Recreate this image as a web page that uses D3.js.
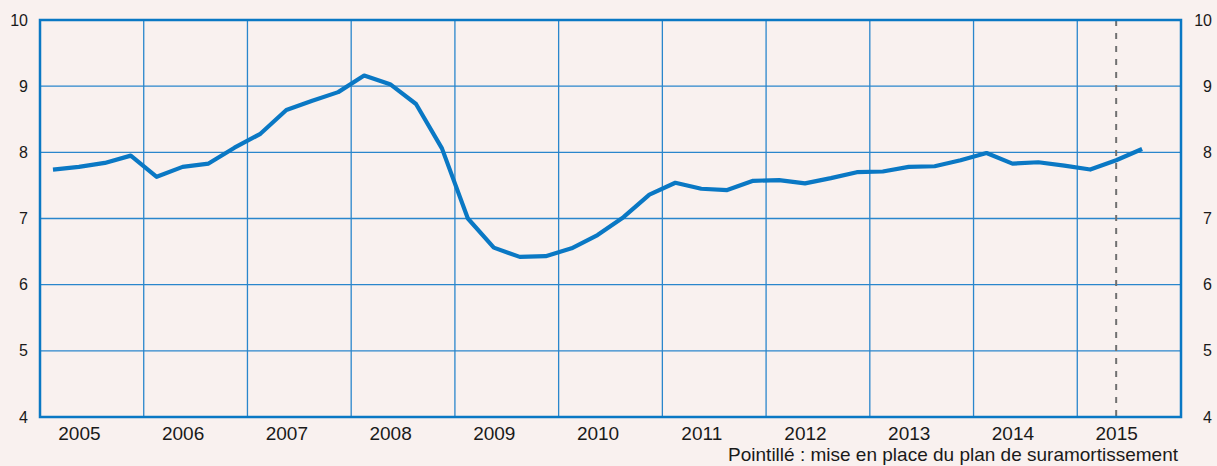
<!DOCTYPE html>
<html>
<head>
<meta charset="utf-8">
<script src="https://cdn.jsdelivr.net/npm/d3@7"></script>
<style>
  html, body { margin: 0; padding: 0; background: #f9f1ef; }
  svg { display: block; font-family: "Liberation Sans", Arial, sans-serif; }
</style>
</head>
<body>
<div id="chart"></div>
<script>
var WIDTH = 1217;
var HEIGHT = 466;
var MARGIN = { top: 20, right: 36, bottom: 49, left: 40 };
var BLUE = "#0a78c4";

// years shown on the x axis
var years = [2005, 2006, 2007, 2008, 2009, 2010, 2011, 2012, 2013, 2014, 2015];
// quarterly observations, 2005T1 .. 2015T3
var quarters = [
  "2005T1", "2005T2", "2005T3", "2005T4",
  "2006T1", "2006T2", "2006T3", "2006T4",
  "2007T1", "2007T2", "2007T3", "2007T4",
  "2008T1", "2008T2", "2008T3", "2008T4",
  "2009T1", "2009T2", "2009T3", "2009T4",
  "2010T1", "2010T2", "2010T3", "2010T4",
  "2011T1", "2011T2", "2011T3", "2011T4",
  "2012T1", "2012T2", "2012T3", "2012T4",
  "2013T1", "2013T2", "2013T3", "2013T4",
  "2014T1", "2014T2", "2014T3", "2014T4",
  "2015T1", "2015T2", "2015T3"
];
var values = [
  7.74, 7.78, 7.84, 7.95,
  7.63, 7.78, 7.83, 8.07,
  8.28, 8.64, 8.78, 8.91,
  9.16, 9.03, 8.73, 8.06,
  7.00, 6.56, 6.42, 6.43,
  6.55, 6.75, 7.02, 7.36,
  7.54, 7.45, 7.43, 7.57,
  7.58, 7.53, 7.61, 7.70,
  7.71, 7.78, 7.79, 7.88,
  7.99, 7.83, 7.85, 7.80,
  7.74, 7.88, 8.05
];
var yTicks = [4, 5, 6, 7, 8, 9, 10];
var markerQuarter = "2015T2";
var footnote = "Pointillé : mise en place du plan de suramortissement";

// turn "2007T3" into a position on a continuous year axis (quarter middle)
function quarterTime(q) {
  var y = +q.slice(0, 4);
  var n = +q.slice(5);
  return y + (n - 0.5) / 4;
}

var data = quarters.map(function(q, i) {
  return { t: quarterTime(q), v: values[i] };
});

var svg = d3.select("#chart").append("svg")
  .attr("width", WIDTH)
  .attr("height", HEIGHT);

svg.append("rect")
  .attr("width", WIDTH)
  .attr("height", HEIGHT)
  .attr("fill", "#f9f1ef");

var x = d3.scaleLinear()
  .domain([years[0], years[years.length - 1] + 1])
  .range([MARGIN.left, WIDTH - MARGIN.right]);
var y = d3.scaleLinear()
  .domain([4, 10])
  .range([HEIGHT - MARGIN.bottom, MARGIN.top]);

var plot = svg.append("g");

// horizontal grid
plot.selectAll(".hgrid")
  .data(yTicks)
  .enter()
  .append("line")
  .attr("class", "hgrid")
  .attr("x1", x.range()[0])
  .attr("x2", x.range()[1])
  .attr("y1", function(d) { return y(d); })
  .attr("y2", function(d) { return y(d); })
  .attr("stroke", "#2a86cc")
  .attr("stroke-width", 1.3);

// vertical year separators
plot.selectAll(".vgrid")
  .data(years.slice(1))
  .enter()
  .append("line")
  .attr("class", "vgrid")
  .attr("x1", function(d) { return x(d); })
  .attr("x2", function(d) { return x(d); })
  .attr("y1", y.range()[1])
  .attr("y2", y.range()[0])
  .attr("stroke", "#2a86cc")
  .attr("stroke-width", 1.3);

// dashed marker
var mx = x(quarterTime(markerQuarter));
plot.append("line")
  .attr("x1", mx)
  .attr("x2", mx)
  .attr("y1", y.range()[1])
  .attr("y2", y.range()[0])
  .attr("stroke", "#707070")
  .attr("stroke-width", 2)
  .attr("stroke-dasharray", "6,7");

// frame
plot.append("rect")
  .attr("x", x.range()[0])
  .attr("y", y.range()[1])
  .attr("width", x.range()[1] - x.range()[0])
  .attr("height", y.range()[0] - y.range()[1])
  .attr("fill", "none")
  .attr("stroke", BLUE)
  .attr("stroke-width", 2.5);

// series
var line = d3.line()
  .x(function(d) { return x(d.t); })
  .y(function(d) { return y(d.v); });

plot.append("path")
  .datum(data)
  .attr("d", line)
  .attr("fill", "none")
  .attr("stroke", BLUE)
  .attr("stroke-width", 4.2)
  .attr("stroke-linejoin", "round");

// y labels on both sides
var leftAxis = d3.axisLeft(y).tickValues(yTicks).tickFormat(d3.format("d"))
  .tickSize(0).tickPadding(12);
var rightAxis = d3.axisRight(y).tickValues(yTicks).tickFormat(d3.format("d"))
  .tickSize(0).tickPadding(0);

var gl = svg.append("g")
  .attr("transform", "translate(" + x.range()[0] + ",0)")
  .call(leftAxis);
var gr = svg.append("g")
  .attr("transform", "translate(" + (WIDTH - 5) + ",0)")
  .call(rightAxis);
[gl, gr].forEach(function(g) {
  g.select(".domain").remove();
  g.selectAll("text")
    .attr("font-family", "Liberation Sans, Arial, sans-serif")
    .attr("font-size", 16)
    .attr("fill", "#1a1a1a");
});
gr.selectAll("text").attr("text-anchor", "end").attr("x", 0);

// year labels, set at the second quarter of each year
var xAxis = d3.axisBottom(x)
  .tickValues(years.map(function(d) { return d + 0.375; }))
  .tickFormat(function(d) { return String(Math.floor(d)); })
  .tickSize(0)
  .tickPadding(10);
var gx = svg.append("g")
  .attr("transform", "translate(0," + y.range()[0] + ")")
  .call(xAxis);
gx.select(".domain").remove();
gx.selectAll("text")
  .attr("font-family", "Liberation Sans, Arial, sans-serif")
  .attr("font-size", 19)
  .attr("fill", "#1a1a1a");

svg.append("text")
  .attr("x", 1178)
  .attr("y", 461)
  .attr("text-anchor", "end")
  .attr("font-size", 19)
  .attr("fill", "#1a1a1a")
  .text(footnote);
</script>
</body>
</html>
